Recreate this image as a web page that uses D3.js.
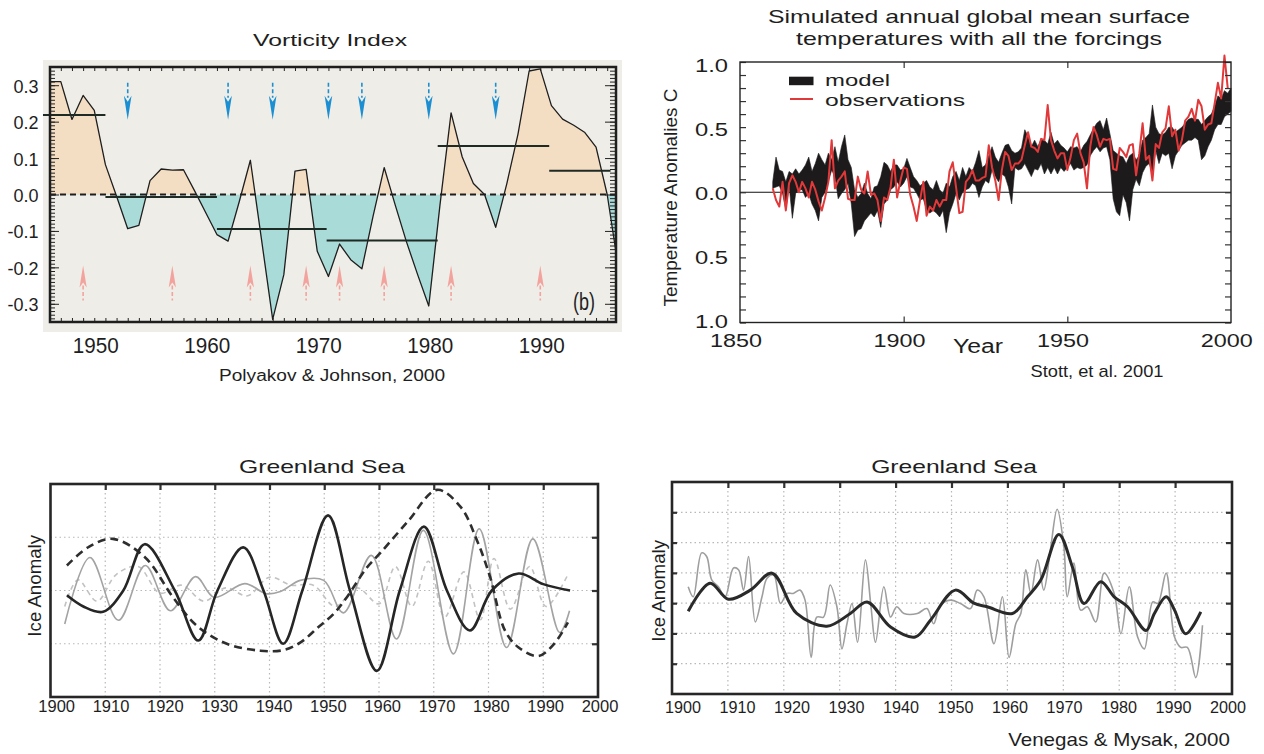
<!DOCTYPE html>
<html><head><meta charset="utf-8">
<script src="https://cdn.jsdelivr.net/npm/d3@7/dist/d3.min.js"></script>
<style>
html,body{margin:0;padding:0;background:#fff;}
svg{display:block;}
text{font-family:"Liberation Sans",Arial,Helvetica,sans-serif;}
</style></head>
<body>
<svg id="chart" width="1264" height="754"></svg>
<script>
// ================= DATA =================
// Panel 1: Vorticity index (Polyakov & Johnson, 2000)
const vortYears = [1946,1947,1948,1949,1950,1951,1952,1953,1954,1955,1956,1957,1958,1959,1960,1961,1962,1963,1964,1965,1966,1967,1968,1969,1970,1971,1972,1973,1974,1975,1976,1977,1978,1979,1980,1981,1982,1983,1984,1985,1986,1987,1988,1989,1990,1991,1992,1993,1994,1995,1996,1997];
const vortValues = [0.31,0.31,0.206,0.272,0.231,0.082,-0.005,-0.094,-0.085,0.038,0.07,0.067,0.068,0.01,-0.05,-0.11,-0.128,-0.02,0.094,-0.124,-0.343,-0.22,0.064,0.069,-0.156,-0.225,-0.136,-0.179,-0.204,-0.06,0.074,-0.03,-0.13,-0.22,-0.306,-0.03,0.224,0.103,0.03,0.0,-0.09,0.03,0.166,0.339,0.345,0.244,0.207,0.19,0.17,0.13,0.0,-0.2];
const meanStart = [1945.4,1951,1961,1970.84,1980.8,1990.8];
const meanEnd   = [1951,1961,1970.84,1980.8,1990.8,1996.3];
const meanValue = [0.218,-0.007,-0.095,-0.126,0.133,0.065];
const blueArrowYears = [1953,1962,1966,1971,1974,1980,1986];
const redArrowYears  = [1949,1957,1964,1969,1972,1976,1982,1990];
const blueArrowTip = 0.205, redArrowTip = -0.195;
const vortTickValues = [0.3,0.2,0.1,0.0,-0.1,-0.2,-0.3];
const vortTickLabels = ["0.3","0.2","0.1","0.0","-0.1","-0.2","-0.3"];
const vortYearTicks = [1950,1960,1970,1980,1990];

// Panel 2: Simulated global mean temperatures (Stott et al. 2001)
const tempYears = d3.range(1860, 2001);
const modelUpper = [
 0.08,0.27,0.17,0.16,0.08,0.16,0.14,0.18,0.14,0.17,
 0.21,0.27,0.16,0.22,0.30,0.25,0.21,0.30,0.25,0.35,
 0.23,0.35,0.44,0.25,0.19,0.02,-0.04,-0.01,0.07,-0.01,
 -0.05,0.04,0.05,0.12,0.23,0.21,0.16,0.21,0.21,0.17,
 0.18,0.26,0.19,0.12,0.09,0.05,0.07,0.09,0.04,0.02,
 0.09,0.02,-0.01,0.07,0.04,0.12,0.16,0.09,0.19,0.12,
 0.19,0.16,0.23,0.32,0.19,0.21,0.28,0.35,0.27,0.23,
 0.30,0.36,0.37,0.32,0.30,0.31,0.34,0.48,0.43,0.35,
 0.40,0.35,0.41,0.40,0.37,0.46,0.37,0.40,0.36,0.34,
 0.31,0.35,0.34,0.35,0.31,0.36,0.39,0.44,0.49,0.53,
 0.55,0.48,0.57,0.45,0.32,0.30,0.28,0.27,0.22,0.28,
 0.30,0.25,0.28,0.40,0.42,0.45,0.67,0.50,0.45,0.44,
 0.46,0.50,0.50,0.46,0.48,0.50,0.53,0.56,0.57,0.56,
 0.56,0.52,0.55,0.58,0.60,0.66,0.74,0.72,0.78,0.76,
 0.80];
const modelLower = [
 0.03,0.04,0.05,-0.01,-0.13,0.05,-0.20,-0.01,0.02,0.02,
 -0.04,-0.01,-0.09,-0.14,-0.22,-0.04,0.00,0.08,0.17,0.12,
 -0.05,-0.01,0.02,0.07,-0.09,-0.34,-0.29,-0.28,-0.22,-0.19,
 -0.16,-0.19,-0.14,-0.27,-0.09,-0.06,0.02,0.04,0.08,0.04,
 0.07,0.12,0.04,0.03,-0.01,-0.06,-0.05,-0.14,-0.16,-0.14,
 -0.16,-0.19,-0.14,-0.31,-0.16,-0.09,-0.01,-0.06,0.00,0.02,
 0.03,0.07,0.05,-0.04,0.04,0.09,0.07,0.17,0.12,0.08,
 0.14,0.12,0.04,-0.09,0.19,0.17,0.18,0.22,0.17,0.12,
 0.18,0.17,0.22,0.14,0.19,0.14,0.19,0.14,0.19,0.16,
 0.19,0.22,0.17,0.19,0.18,0.19,0.21,0.28,0.32,0.35,
 0.31,0.34,0.35,0.25,-0.05,-0.15,-0.18,-0.02,-0.08,-0.22,
 0.02,0.10,0.05,0.15,0.20,0.22,0.15,0.32,0.22,0.30,
 0.28,0.30,0.18,0.28,0.32,0.36,0.38,0.40,0.40,0.42,
 0.40,0.25,0.28,0.35,0.40,0.48,0.52,0.52,0.58,0.60,
 0.62];
const obsYears = d3.range(1860, 2000);
const obsValues = [
 0.03,-0.06,-0.11,0.08,-0.14,0.07,0.13,0.08,0.00,0.08,
 0.03,-0.04,0.08,0.02,-0.07,-0.14,-0.04,0.08,0.40,0.03,
 0.09,0.12,0.16,-0.05,-0.06,-0.06,0.12,0.02,-0.01,0.16,
 -0.02,-0.01,-0.06,-0.22,-0.04,-0.06,0.04,0.25,-0.04,0.09,
 0.19,0.18,-0.02,-0.11,-0.22,-0.06,0.08,-0.18,-0.11,-0.14,
 -0.06,-0.11,-0.06,-0.06,0.16,0.23,0.04,-0.16,-0.15,0.08,
 0.11,0.17,0.09,0.09,0.11,0.12,0.36,0.19,0.09,-0.06,
 0.17,0.31,0.28,0.17,0.22,0.22,0.25,0.36,0.46,0.35,
 0.34,0.31,0.41,0.40,0.67,0.40,0.32,0.26,0.30,0.30,
 0.17,0.27,0.40,0.45,0.30,0.23,0.03,0.35,0.50,0.44,
 0.35,0.41,0.40,0.41,0.18,0.17,0.34,0.31,0.27,0.36,
 0.37,0.13,0.30,0.53,0.25,0.28,0.09,0.37,0.34,0.46,
 0.49,0.66,0.43,0.48,0.32,0.40,0.55,0.58,0.64,0.55,
 0.71,0.66,0.48,0.52,0.53,0.68,0.84,0.72,1.05,0.80];
const tempTickValues = [1.0,0.5,0.0,-0.5,-1.0];
const tempTickLabels = ["1.0","0.5","0.0","0.5","1.0"];
const tempYearTicks = [1850,1900,1950,2000];

// Panel 3: Greenland Sea, four modes
const gsAYears = [1903,1906,1909.6,1913.3,1917.2,1922.7,1927,1930.5,1935.2,1938.9,1942.5,1946,1950.7,1954.7,1959.6,1963.8,1968.2,1972.4,1976.6,1980.6,1985.5,1990,1994.9];
const gsAValues = [-0.09,-0.3,-0.4,0.0,0.87,0.0,-0.94,0.0,0.81,0.0,-1.0,0.0,1.41,0.0,-1.51,0.0,1.2,0.0,-0.75,0.0,0.32,0.12,0.0];
const gsBYears = [1903,1907,1911.4,1917.2,1922.4,1926.7,1932.2,1938.3,1942.5,1945.6,1949,1951.7,1954.1,1957.7,1960.2,1965.3,1970.6,1974.9,1977.9,1980.3,1983,1985.5,1989.1,1992,1994.5];
const gsBValues = [0.47,0.82,0.97,0.63,-0.13,-0.66,-1.0,-1.13,-1.12,-0.98,-0.68,-0.44,-0.13,0.42,0.7,1.3,1.89,1.57,0.94,0.25,-0.75,-1.07,-1.23,-1.0,-0.6];
const gsCYears = [1902.6,1907.2,1912.4,1917.3,1921.9,1926.5,1929.9,1935.5,1939.4,1942,1945.6,1949.9,1953.5,1958.6,1963.2,1968.1,1973.6,1978.3,1983.3,1988.1,1993,1994.8];
const gsCValues = [-0.63,0.62,-0.56,0.47,-0.38,0.26,-0.13,0.13,-0.06,-0.02,0.19,0.19,-0.42,0.66,-0.91,1.13,-1.19,1.16,-1.07,0.97,-0.79,-0.38];
const gsDYears = [1902.6,1905,1908.5,1912,1916,1920,1924,1928,1932,1936,1940,1944,1948,1952,1956,1960,1963,1966,1969,1972,1975.5,1978.5,1981,1984,1987.5,1990.5,1994.5];
const gsDValues = [-0.3,0.2,-0.2,0.3,0.45,-0.05,0.1,-0.2,0.05,-0.1,0.25,0.1,0.1,-0.3,0.05,-0.25,0.45,-0.3,0.55,-0.5,0.35,-0.55,0.6,-0.35,0.45,-0.3,0.3];
const decadeTicks = [1900,1910,1920,1930,1940,1950,1960,1970,1980,1990,2000];

// Panel 4: Greenland Sea ice anomaly (Venegas & Mysak, 2000)
const vmSmoothYears = [1902.9,1906.8,1910.1,1914,1917.9,1922.3,1927.7,1931.9,1934.9,1939.1,1943.5,1946.2,1950.7,1954,1956.4,1960.9,1963.6,1966,1969.2,1971.6,1973.7,1976.7,1979.1,1981.5,1984.8,1986.3,1988.4,1989.9,1991.9,1994.6];
const vmSmoothValues = [-0.27,0.66,0.13,0.43,0.99,-0.34,-0.76,-0.34,0.04,-0.79,-1.12,-0.57,0.43,0.0,-0.12,-0.34,0.21,0.77,2.27,1.21,-0.01,0.71,0.21,-0.12,-0.9,-0.34,0.21,-0.23,-1.01,-0.29];
const vmRawYears = [1902.9,1903.8,1905.3,1906.2,1907.1,1908.3,1909.5,1911,1911.9,1912.8,1913.7,1914.9,1916.1,1917,1918.2,1919.4,1920.6,1921.7,1922.9,1923.8,1924.9,1925.9,1927.1,1928.3,1929.5,1930.4,1931.3,1932.2,1933.2,1934.6,1935.6,1936.4,1937.9,1939.1,1940.2,1941.5,1943.9,1945.6,1946.8,1948,1949.8,1951.6,1953.4,1954.6,1955.8,1957.6,1959.1,1960.3,1961.5,1962.4,1963.3,1964.2,1965.4,1966.5,1967.7,1968.9,1970.1,1970.7,1971.9,1973.1,1974.3,1975.8,1977.3,1979.1,1980.3,1981.8,1983.3,1984.5,1986,1986.9,1988.4,1989.9,1991,1992.2,1993.7,1994.9];
const vmRawValues = [0.54,0.21,1.66,1.54,0.77,0.54,0.21,1.16,1.1,0.43,1.54,-0.62,0.21,0.82,0.93,-0.01,0.32,0.32,0.43,0.1,-1.79,-0.46,-0.46,0.6,-0.12,-1.51,-0.68,-0.01,-1.29,1.43,-0.12,-1.29,0.54,-0.46,-0.12,-0.34,-0.34,-0.18,-0.68,-0.07,0.1,-0.01,-0.18,0.43,0.21,-1.34,0.21,-1.79,-0.68,-0.34,1.1,0.32,1.43,0.43,1.77,3.1,1.88,0.21,1.32,-0.23,-0.12,-0.62,0.99,0.32,-1.01,0.54,-1.12,-1.51,0.04,-0.01,0.99,-1.12,-1.46,-1.46,-2.46,-0.73];

// ================= HELPERS =================
const svg = d3.select('#chart');
const defs = svg.append('defs');
function addText(g, s, x, y, size, width, anchor, rot, fill) {
  const t = g.append('text').attr('x', x).attr('y', y).attr('font-size', size)
    .attr('text-anchor', anchor || 'middle').attr('fill', fill || '#1e1e1e').text(s);
  if (width) t.attr('textLength', width).attr('lengthAdjust', 'spacingAndGlyphs');
  if (rot) t.attr('transform', `rotate(${rot},${x},${y})`);
  return t;
}
function noDomain(g){ g.select('.domain').remove(); }
const zip = (a,b)=>a.map((x,i)=>({x:x,v:b[i]}));

// ================= PANEL 1 =================
{
  const g = svg.append('g');
  const x = d3.scaleLinear().domain([1946.03, 1996.79]).range([50, 616]);
  const y = d3.scaleLinear().domain([-0.35, 0.35]).range([322, 67]);
  g.append('rect').attr('x', 43).attr('y', 60).attr('width', 579).attr('height', 272).attr('fill', '#efede7');
  defs.append('clipPath').attr('id', 'cPos').append('rect').attr('x', 50).attr('y', 67).attr('width', 566).attr('height', y(0) - 67);
  defs.append('clipPath').attr('id', 'cNeg').append('rect').attr('x', 50).attr('y', y(0)).attr('width', 566).attr('height', 322 - y(0));
  defs.append('clipPath').attr('id', 'cP1').append('rect').attr('x', 50).attr('y', 67).attr('width', 566).attr('height', 255);
  const data = zip(vortYears, vortValues);
  const area = d3.area().x(d => x(d.x)).y0(y(0)).y1(d => y(d.v));
  g.append('path').datum(data).attr('d', area).attr('fill', '#f4dec3').attr('clip-path', 'url(#cPos)');
  g.append('path').datum(data).attr('d', area).attr('fill', '#a9dbd8').attr('clip-path', 'url(#cNeg)');
  g.append('line').attr('x1', 50).attr('x2', 616).attr('y1', y(0)).attr('y2', y(0))
    .attr('stroke', '#1e1e1e').attr('stroke-width', 1.8).attr('stroke-dasharray', '6,4');
  g.append('path').datum(data).attr('d', d3.line().x(d => x(d.x)).y(d => y(d.v)))
    .attr('fill', 'none').attr('stroke', '#1e1e1e').attr('stroke-width', 1.3).attr('stroke-linejoin', 'round').attr('clip-path', 'url(#cP1)');
  g.selectAll('.mean').data(meanStart.map((s, i) => ({s: s, e: meanEnd[i], v: meanValue[i]}))).join('line')
    .attr('x1', d => x(d.s)).attr('x2', d => x(d.e)).attr('y1', d => y(d.v)).attr('y2', d => y(d.v))
    .attr('stroke', '#1e2a24').attr('stroke-width', 2);
  const bt = y(blueArrowTip);
  blueArrowYears.forEach(yr => {
    const cx = x(yr);
    g.append('line').attr('x1', cx).attr('x2', cx).attr('y1', bt - 37).attr('y2', bt - 22)
      .attr('stroke', '#1b8fd2').attr('stroke-width', 1.6).attr('stroke-dasharray', '4,2.5');
    g.append('path').attr('d', `M${cx-3.8},${bt-24} L${cx},${bt-18} L${cx+3.8},${bt-24} L${cx},${bt} Z`).attr('fill', '#1b8fd2');
  });
  const rt = y(redArrowTip);
  redArrowYears.forEach(yr => {
    const cx = x(yr);
    g.append('line').attr('x1', cx).attr('x2', cx).attr('y1', rt + 20).attr('y2', rt + 35)
      .attr('stroke', '#f3a39e').attr('stroke-width', 1.6).attr('stroke-dasharray', '4,2.5');
    g.append('path').attr('d', `M${cx-3.6},${rt+22} L${cx},${rt+17} L${cx+3.6},${rt+22} L${cx},${rt} Z`).attr('fill', '#f3a39e');
  });
  const minorV = d3.range(-35, 36).map(i => i / 100);
  const majorV = d3.range(-3, 4).map(i => i / 10);
  g.append('g').attr('transform', 'translate(50,0)').attr('color', '#222')
    .call(d3.axisLeft(y).tickValues(minorV).tickSize(-5).tickFormat('')).call(noDomain);
  g.append('g').attr('transform', 'translate(50,0)').attr('color', '#222')
    .call(d3.axisLeft(y).tickValues(majorV).tickSize(-9).tickFormat('')).call(noDomain);
  g.append('g').attr('transform', 'translate(616,0)').attr('color', '#222')
    .call(d3.axisRight(y).tickValues(minorV).tickSize(-6).tickFormat('')).call(noDomain);
  g.append('g').attr('transform', 'translate(616,0)').attr('color', '#222')
    .call(d3.axisRight(y).tickValues(majorV).tickSize(-11).tickFormat('')).call(noDomain);
  const yrTicks = d3.range(1947, 1997);
  g.append('g').attr('transform', 'translate(0,67)').attr('color', '#222')
    .call(d3.axisTop(x).tickValues(yrTicks).tickSize(-4).tickFormat('')).call(noDomain);
  g.append('g').attr('transform', 'translate(0,322)').attr('color', '#222')
    .call(d3.axisBottom(x).tickValues(yrTicks).tickSize(-4).tickFormat('')).call(noDomain);
  g.append('rect').attr('x', 50).attr('y', 67).attr('width', 566).attr('height', 255)
    .attr('fill', 'none').attr('stroke', '#1e1e1e').attr('stroke-width', 2.5);
  vortTickValues.forEach((v, i) => addText(g, vortTickLabels[i], 38.5, y(v) + 7.5, 18, null, 'end'));
  vortYearTicks.forEach(yr => addText(g, String(yr), x(yr) + 1.5, 352.5, 22, 46));
  addText(g, '(b)', 584, 310, 23, 22);
  addText(g, 'Vorticity Index', 330, 46, 17, 154);
  addText(g, 'Polyakov & Johnson, 2000', 332, 381, 16, 226);
}

// ================= PANEL 2 =================
{
  const g = svg.append('g');
  const x = d3.scaleLinear().domain([1850, 2000]).range([740, 1231]);
  const y = d3.scaleLinear().domain([-1, 1]).range([322.5, 62]);
  const yLab = d3.scaleLinear().domain([-1, 1]).range([327.7, 72]);
  const xLab = d3.scaleLinear().domain([1850, 2000]).range([736, 1226.7]);
  g.append('line').attr('x1', 740).attr('x2', 1231).attr('y1', y(0)).attr('y2', y(0)).attr('stroke', '#111').attr('stroke-width', 1.2);
  const band = tempYears.map((yr, i) => ({x: yr, lo: modelLower[i], hi: modelUpper[i]}));
  g.append('path').datum(band).attr('d', d3.area().x(d => x(d.x)).y0(d => y(d.lo)).y1(d => y(d.hi)))
    .attr('fill', '#1c1a1b').attr('stroke', '#1c1a1b').attr('stroke-width', 0.6);
  g.append('path').datum(zip(obsYears, obsValues)).attr('d', d3.line().x(d => x(d.x)).y(d => y(d.v)))
    .attr('fill', 'none').attr('stroke', '#e1383a').attr('stroke-width', 2).attr('stroke-linejoin', 'round');
  const minorT = d3.range(-10, 11).map(i => i / 10);
  g.append('g').attr('transform', 'translate(740,0)').attr('color', '#333')
    .call(d3.axisLeft(y).tickValues(minorT).tickSize(-6).tickFormat('')).call(noDomain);
  g.append('g').attr('transform', 'translate(1231,0)').attr('color', '#333')
    .call(d3.axisRight(y).tickValues(minorT).tickSize(-6).tickFormat('')).call(noDomain);
  g.append('g').attr('transform', 'translate(0,62)').attr('color', '#333')
    .call(d3.axisTop(x).tickValues([1900, 1950]).tickSize(-6).tickFormat('')).call(noDomain);
  g.append('g').attr('transform', 'translate(0,322.5)').attr('color', '#333')
    .call(d3.axisBottom(x).tickValues([1900, 1950]).tickSize(-6).tickFormat('')).call(noDomain);
  g.selectAll('.tick line').attr('stroke-width', 1.2);
  g.append('rect').attr('x', 740).attr('y', 62).attr('width', 491).attr('height', 260.5)
    .attr('fill', 'none').attr('stroke', '#222').attr('stroke-width', 1.4);
  g.append('rect').attr('x', 789).attr('y', 76.7).attr('width', 24.5).attr('height', 8.5).attr('fill', '#1c1a1b');
  g.append('line').attr('x1', 790).attr('x2', 813).attr('y1', 99).attr('y2', 99).attr('stroke', '#e1383a').attr('stroke-width', 2);
  addText(g, 'model', 825, 86, 17, 65, 'start');
  addText(g, 'observations', 825, 106, 17, 140, 'start');
  tempTickValues.forEach((v, i) => addText(g, tempTickLabels[i], 728, yLab(v), 18.5, 33, 'end'));
  tempYearTicks.forEach(yr => addText(g, String(yr), xLab(yr), 346.7, 18.5, 52));
  addText(g, 'Simulated annual global mean surface', 979, 22.7, 18.5, 422);
  addText(g, 'temperatures with all the forcings', 979, 45, 18.5, 366);
  addText(g, 'Year', 978, 352.7, 19.5, 50);
  addText(g, 'Stott, et al. 2001', 1097, 376.5, 17, 133);
  addText(g, 'Temperature Anomalies C', 677, 197.5, 19, 218, 'middle', -90);
}

// ================= PANEL 3 =================
{
  const g = svg.append('g');
  const x = d3.scaleLinear().domain([1900, 2000]).range([50.5, 598]);
  const y = d3.scaleLinear().domain([-2, 2]).range([697, 484]);
  const xLab = d3.scaleLinear().domain([1900, 2000]).range([56.7, 600]);
  const gridX = decadeTicks.slice(1, -1);
  const gridY = [-1, 0, 1];
  g.selectAll('.gx').data(gridX).join('line').attr('x1', d => x(d)).attr('x2', d => x(d)).attr('y1', 484).attr('y2', 697)
    .attr('stroke', '#b8b8b8').attr('stroke-width', 1.2).attr('stroke-dasharray', '1.5,3');
  g.selectAll('.gy').data(gridY).join('line').attr('x1', 50.5).attr('x2', 598).attr('y1', d => y(d)).attr('y2', d => y(d))
    .attr('stroke', '#b8b8b8').attr('stroke-width', 1.2).attr('stroke-dasharray', '1.5,3');
  const line = d3.line().x(d => x(d.x)).y(d => y(d.v)).curve(d3.curveCatmullRom.alpha(0.5));
  g.append('path').datum(zip(gsDYears, gsDValues)).attr('d', line).attr('fill', 'none')
    .attr('stroke', '#c2c2c2').attr('stroke-width', 1.6).attr('stroke-dasharray', '5,4');
  g.append('path').datum(zip(gsCYears, gsCValues)).attr('d', line).attr('fill', 'none')
    .attr('stroke', '#a3a3a3').attr('stroke-width', 1.6);
  g.append('path').datum(zip(gsBYears, gsBValues)).attr('d', line).attr('fill', 'none')
    .attr('stroke', '#2e2e2e').attr('stroke-width', 2.6).attr('stroke-dasharray', '8,5');
  g.append('path').datum(zip(gsAYears, gsAValues)).attr('d', line).attr('fill', 'none')
    .attr('stroke', '#262626').attr('stroke-width', 2.6);
  g.append('g').attr('transform', 'translate(0,484)').attr('color', '#333')
    .call(d3.axisTop(x).tickValues(gridX).tickSize(-6).tickFormat('')).call(noDomain)
    .selectAll('line').attr('stroke-width', 2.2);
  g.append('g').attr('transform', 'translate(598,0)').attr('color', '#333')
    .call(d3.axisRight(y).tickValues(gridY).tickSize(-6).tickFormat('')).call(noDomain)
    .selectAll('line').attr('stroke-width', 2.2);
  g.append('rect').attr('x', 50.5).attr('y', 484).attr('width', 547.5).attr('height', 213)
    .attr('fill', 'none').attr('stroke', '#262626').attr('stroke-width', 2.6);
  decadeTicks.forEach(yr => addText(g, String(yr), xLab(yr), 711.5, 17, 36.7));
  addText(g, 'Greenland Sea', 322, 473.3, 18.5, 166);
  addText(g, 'Ice Anomaly', 41.5, 585.8, 18.5, 101.7, 'middle', -90);
}

// ================= PANEL 4 =================
{
  const g = svg.append('g');
  const x = d3.scaleLinear().domain([1900, 2000]).range([672, 1231]);
  const y = d3.scaleLinear().domain([-3, 4]).range([694, 482]);
  const xLab = d3.scaleLinear().domain([1900, 2000]).range([683, 1228]);
  const gridX = decadeTicks.slice(1, -1);
  const gridY = [-2, -1, 0, 1, 2, 3];
  g.selectAll('.gx').data(gridX).join('line').attr('x1', d => x(d)).attr('x2', d => x(d)).attr('y1', 482).attr('y2', 694)
    .attr('stroke', '#b8b8b8').attr('stroke-width', 1.2).attr('stroke-dasharray', '1.5,3');
  g.selectAll('.gy').data(gridY).join('line').attr('x1', 672).attr('x2', 1232).attr('y1', d => y(d)).attr('y2', d => y(d))
    .attr('stroke', '#b8b8b8').attr('stroke-width', 1.2).attr('stroke-dasharray', '1.5,3');
  const line = d3.line().x(d => x(d.x)).y(d => y(d.v)).curve(d3.curveCatmullRom.alpha(0.5));
  g.append('path').datum(zip(vmRawYears, vmRawValues)).attr('d', line)
    .attr('fill', 'none').attr('stroke', '#9e9e9e').attr('stroke-width', 1.6);
  g.append('path').datum(zip(vmSmoothYears, vmSmoothValues)).attr('d', line)
    .attr('fill', 'none').attr('stroke', '#2a2a2a').attr('stroke-width', 3);
  g.append('g').attr('transform', 'translate(0,482)').attr('color', '#333')
    .call(d3.axisTop(x).tickValues(gridX).tickSize(-6).tickFormat('')).call(noDomain)
    .selectAll('line').attr('stroke-width', 2.2);
  g.append('g').attr('transform', 'translate(672,0)').attr('color', '#333')
    .call(d3.axisLeft(y).tickValues(gridY).tickSize(-5).tickFormat('')).call(noDomain)
    .selectAll('line').attr('stroke-width', 2.2);
  g.append('g').attr('transform', 'translate(1232,0)').attr('color', '#333')
    .call(d3.axisRight(y).tickValues(gridY).tickSize(-6).tickFormat('')).call(noDomain)
    .selectAll('line').attr('stroke-width', 2.2);
  g.append('rect').attr('x', 672).attr('y', 482).attr('width', 560).attr('height', 212)
    .attr('fill', 'none').attr('stroke', '#262626').attr('stroke-width', 2.6);
  decadeTicks.forEach(yr => addText(g, String(yr), xLab(yr), 713, 17, 36));
  addText(g, 'Greenland Sea', 954, 473.3, 18.5, 165.7);
  addText(g, 'Ice Anomaly', 665, 590.8, 18.5, 101.7, 'middle', -90);
  addText(g, 'Venegas & Mysak, 2000', 1119, 746, 18.5, 221.7);
}
</script>
</body></html>
